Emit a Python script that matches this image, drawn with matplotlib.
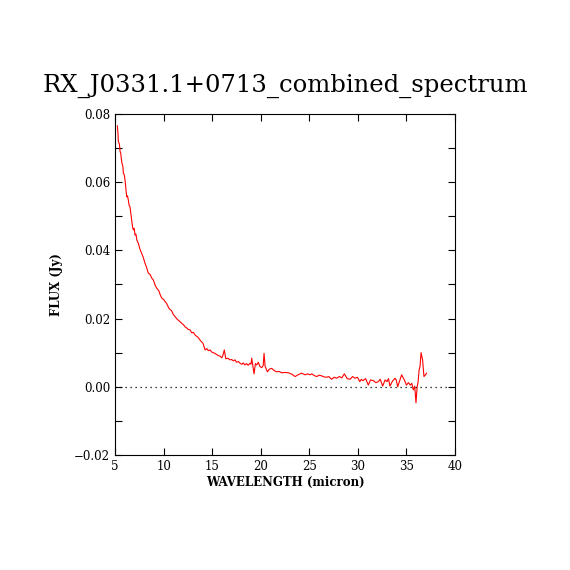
import numpy as np
import matplotlib.pyplot as plt
from matplotlib.ticker import MultipleLocator

# wavelength (micron) and flux (Jy)
wave = [5.24, 5.30, 5.34, 5.45, 5.52, 5.59, 5.65, 5.72, 5.80, 5.86, 5.95, 6.03,
        6.10, 6.20, 6.28, 6.37, 6.45, 6.54, 6.62, 6.72, 6.80, 6.88, 6.97, 7.06,
        7.15, 7.25, 7.40, 7.55, 7.74, 7.90, 8.09, 8.25, 8.43, 8.60, 8.80, 8.95,
        9.10, 9.29, 9.50, 9.65, 9.81, 10.0, 10.15, 10.3, 10.45, 10.6, 10.8, 11.0,
        11.2, 11.4, 11.69, 11.9, 12.05, 12.2, 12.4, 12.55, 12.72, 12.9, 13.05, 13.24,
        13.4, 13.55, 13.75, 13.9, 14.05, 14.27, 14.45, 14.6, 14.78, 14.95, 15.1, 15.29,
        15.45, 15.6, 15.8, 16.0, 16.1, 16.25, 16.4, 16.6, 16.84, 17.0, 17.2, 17.35,
        17.5, 17.7, 17.87, 18.05, 18.2, 18.38, 18.55, 18.7, 18.9, 19.0, 19.07, 19.2,
        19.31, 19.45, 19.59, 19.75, 19.93, 20.1, 20.25, 20.34, 20.45, 20.68, 20.9, 21.13,
        21.4, 21.65, 21.9, 22.16, 22.5, 22.85, 23.2, 23.53, 23.9, 24.2, 24.57, 24.8,
        25.08, 25.25, 25.5, 25.77, 26.0, 26.28, 26.5, 26.8, 27.0, 27.3, 27.55, 27.8,
        28.1, 28.35, 28.6, 28.9, 29.2, 29.45, 29.7, 29.95, 30.2, 30.35, 30.5, 30.8,
        31.07, 31.3, 31.6, 31.85, 32.1, 32.3, 32.55, 32.8, 33.0, 33.15, 33.3, 33.55,
        33.82, 33.95, 34.1, 34.3, 34.5, 34.75, 35.0, 35.2, 35.4, 35.55, 35.7, 35.85,
        35.98, 36.1, 36.2, 36.3, 36.4, 36.5, 36.58, 36.66, 36.8, 36.95, 37.07]
flux = [0.0765, 0.0745, 0.0719, 0.0712, 0.0690, 0.0685, 0.0668, 0.0655, 0.0648, 0.0626, 0.0622, 0.0606,
        0.0585, 0.0557, 0.0560, 0.0548, 0.0532, 0.0528, 0.0510, 0.0489, 0.0470, 0.0460, 0.0465, 0.0445,
        0.0448, 0.0430, 0.0421, 0.0405, 0.0391, 0.0380, 0.0362, 0.0350, 0.0333, 0.0330, 0.0318, 0.0313,
        0.0300, 0.0289, 0.0282, 0.0270, 0.0260, 0.0256, 0.0250, 0.0245, 0.0236, 0.0228, 0.0224, 0.0212,
        0.0205, 0.0198, 0.0191, 0.0185, 0.0182, 0.0176, 0.0172, 0.0168, 0.0167, 0.0158, 0.0160, 0.0152,
        0.0148, 0.0145, 0.0137, 0.0132, 0.0128, 0.0108, 0.0112, 0.0106, 0.0108, 0.0102, 0.0100, 0.0098,
        0.0095, 0.0092, 0.0090, 0.0085, 0.0092, 0.0108, 0.0082, 0.0084, 0.0079, 0.0080, 0.0076, 0.0079,
        0.0072, 0.0074, 0.0069, 0.0066, 0.0070, 0.0064, 0.0068, 0.0063, 0.0069, 0.0066, 0.0084, 0.0060,
        0.0038, 0.0068, 0.0064, 0.0072, 0.0059, 0.0056, 0.0062, 0.0098, 0.0060, 0.0044, 0.0052, 0.0054,
        0.0047, 0.0044, 0.0045, 0.0041, 0.0042, 0.0041, 0.0037, 0.0030, 0.0036, 0.0040, 0.0035, 0.0038,
        0.0035, 0.0038, 0.0033, 0.0030, 0.0034, 0.0032, 0.0029, 0.0028, 0.0030, 0.0022, 0.0028, 0.0025,
        0.0030, 0.0026, 0.0038, 0.0024, 0.0022, 0.0030, 0.0025, 0.0028, 0.0015, 0.0022, 0.0018, 0.0024,
        0.0005, 0.0020, 0.0018, 0.0012, 0.0015, 0.0022, 0.0002, 0.0020, 0.0015, 0.0024, 0.0002, 0.0016,
        0.0025, 0.0020, 0.0000, 0.0018, 0.0035, 0.0022, 0.0005, 0.0012, 0.0005, 0.0010, -0.0009, 0.0002,
        -0.0047, 0.0000, 0.0015, 0.0049, 0.0060, 0.0100, 0.0090, 0.0079, 0.0030, 0.0035, 0.0040]

fig = plt.figure(figsize=(5.7, 5.7), dpi=100)
ax = fig.add_axes([0.2018, 0.2018, 0.5965, 0.5982])

ax.plot(wave, flux, color="red", linewidth=0.8)
ax.axhline(0, color="black", linestyle=(0, (1, 3)), linewidth=0.9)

ax.set_xlim(5, 40)
ax.set_ylim(-0.02, 0.08)
ax.xaxis.set_major_locator(MultipleLocator(5))
ax.yaxis.set_major_locator(MultipleLocator(0.02))
ax.yaxis.set_minor_locator(MultipleLocator(0.01))
ax.yaxis.set_major_formatter(lambda v, p: "\u22120.02" if v < -0.001 else f"{v:.2f}")
ax.tick_params(which="both", direction="in", top=True, right=True, length=5, width=0.8,
               labelsize=8.5)
for lab in ax.get_xticklabels() + ax.get_yticklabels():
    lab.set_family("DejaVu Serif")
for s in ax.spines.values():
    s.set_linewidth(0.8)

ax.set_xlabel("WAVELENGTH (micron)", family="DejaVu Serif", fontweight="bold", fontsize=8.5,
              labelpad=2)
ax.set_ylabel("FLUX (Jy)", family="DejaVu Serif", fontweight="bold", fontsize=8.5, labelpad=8)
ax.set_title("RX_J0331.1+0713_combined_spectrum", family="DejaVu Serif", fontsize=17.5, pad=16)

fig.savefig("out.png", dpi=100)
